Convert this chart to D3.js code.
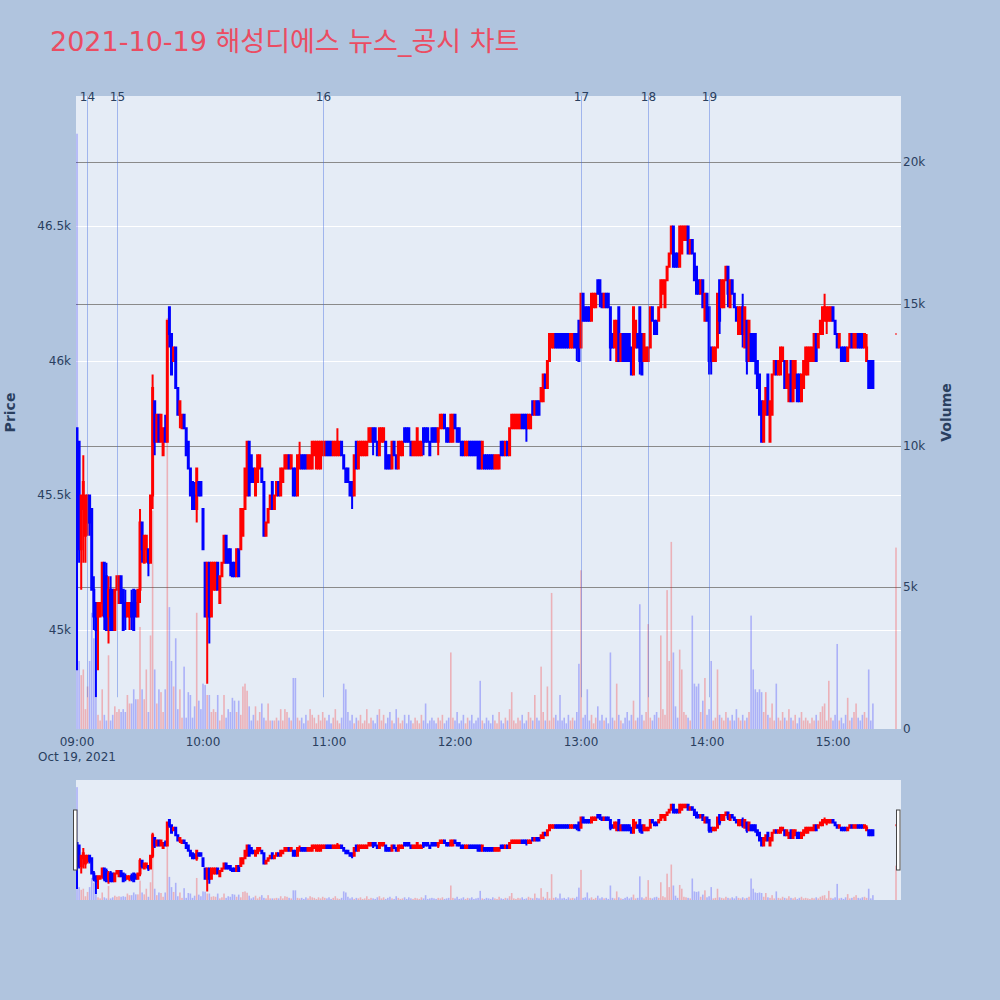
<!DOCTYPE html>
<html><head><meta charset="utf-8">
<script src="https://cdn.jsdelivr.net/npm/d3@7"></script>
<style>body{margin:0;background:#b0c4de;}svg{display:block;}</style>
</head><body>
<svg id="chart" width="1000" height="1000"></svg>
<script>
const tradeDate = "2021-10-19";
const chartTitle = "2021-10-19 해성디에스 뉴스_공시 차트";
const times = [
"09:00","09:01","09:02","09:03","09:04","09:05","09:06","09:07","09:08","09:09",
"09:10","09:11","09:12","09:13","09:14","09:15","09:16","09:17","09:18","09:19",
"09:20","09:21","09:22","09:23","09:24","09:25","09:26","09:27","09:28","09:29",
"09:30","09:31","09:32","09:33","09:34","09:35","09:36","09:37","09:38","09:39",
"09:40","09:41","09:42","09:43","09:44","09:45","09:46","09:47","09:48","09:49",
"09:50","09:51","09:52","09:53","09:54","09:55","09:56","09:57","09:58","09:59",
"10:00","10:01","10:02","10:03","10:04","10:05","10:06","10:07","10:08","10:09",
"10:10","10:11","10:12","10:13","10:14","10:15","10:16","10:17","10:18","10:19",
"10:20","10:21","10:22","10:23","10:24","10:25","10:26","10:27","10:28","10:29",
"10:30","10:31","10:32","10:33","10:34","10:35","10:36","10:37","10:38","10:39",
"10:40","10:41","10:42","10:43","10:44","10:45","10:46","10:47","10:48","10:49",
"10:50","10:51","10:52","10:53","10:54","10:55","10:56","10:57","10:58","10:59",
"11:00","11:01","11:02","11:03","11:04","11:05","11:06","11:07","11:08","11:09",
"11:10","11:11","11:12","11:13","11:14","11:15","11:16","11:17","11:18","11:19",
"11:20","11:21","11:22","11:23","11:24","11:25","11:26","11:27","11:28","11:29",
"11:30","11:31","11:32","11:33","11:34","11:35","11:36","11:37","11:38","11:39",
"11:40","11:41","11:42","11:43","11:44","11:45","11:46","11:47","11:48","11:49",
"11:50","11:51","11:52","11:53","11:54","11:55","11:56","11:57","11:58","11:59",
"12:00","12:01","12:02","12:03","12:04","12:05","12:06","12:07","12:08","12:09",
"12:10","12:11","12:12","12:13","12:14","12:15","12:16","12:17","12:18","12:19",
"12:20","12:21","12:22","12:23","12:24","12:25","12:26","12:27","12:28","12:29",
"12:30","12:31","12:32","12:33","12:34","12:35","12:36","12:37","12:38","12:39",
"12:40","12:41","12:42","12:43","12:44","12:45","12:46","12:47","12:48","12:49",
"12:50","12:51","12:52","12:53","12:54","12:55","12:56","12:57","12:58","12:59",
"13:00","13:01","13:02","13:03","13:04","13:05","13:06","13:07","13:08","13:09",
"13:10","13:11","13:12","13:13","13:14","13:15","13:16","13:17","13:18","13:19",
"13:20","13:21","13:22","13:23","13:24","13:25","13:26","13:27","13:28","13:29",
"13:30","13:31","13:32","13:33","13:34","13:35","13:36","13:37","13:38","13:39",
"13:40","13:41","13:42","13:43","13:44","13:45","13:46","13:47","13:48","13:49",
"13:50","13:51","13:52","13:53","13:54","13:55","13:56","13:57","13:58","13:59",
"14:00","14:01","14:02","14:03","14:04","14:05","14:06","14:07","14:08","14:09",
"14:10","14:11","14:12","14:13","14:14","14:15","14:16","14:17","14:18","14:19",
"14:20","14:21","14:22","14:23","14:24","14:25","14:26","14:27","14:28","14:29",
"14:30","14:31","14:32","14:33","14:34","14:35","14:36","14:37","14:38","14:39",
"14:40","14:41","14:42","14:43","14:44","14:45","14:46","14:47","14:48","14:49",
"14:50","14:51","14:52","14:53","14:54","14:55","14:56","14:57","14:58","14:59",
"15:00","15:01","15:02","15:03","15:04","15:05","15:06","15:07","15:08","15:09",
"15:10","15:11","15:12","15:13","15:14","15:15","15:16","15:17","15:18","15:19",
"15:30"];
const opens = [
45750,45700,45300,45450,45350,45400,45500,45450,45150,45100,
45050,45050,45100,45250,45200,45050,45150,45150,45000,45150,
45100,45200,45150,45100,45050,45050,45100,45150,45100,45050,
45150,45400,45250,45300,45300,45250,45500,45850,45700,45800,
45700,45650,45750,45700,46200,46100,46000,46050,45900,45800,
45750,45800,45750,45700,45600,45550,45500,45450,45550,45550,
45450,45250,45050,45250,45050,45150,45150,45250,45100,45200,
45250,45350,45300,45300,45250,45250,45200,45300,45300,45350,
45450,45500,45700,45650,45600,45500,45550,45600,45600,45550,
45350,45400,45450,45550,45450,45500,45550,45500,45550,45600,
45600,45650,45600,45600,45600,45500,45600,45650,45650,45650,
45600,45600,45600,45650,45600,45600,45600,45650,45650,45700,
45700,45700,45650,45650,45650,45650,45700,45650,45600,45600,
45550,45550,45500,45700,45600,45650,45650,45650,45650,45700,
45700,45750,45750,45700,45650,45700,45700,45700,45650,45650,
45600,45700,45650,45600,45650,45650,45750,45750,45750,45700,
45650,45650,45650,45650,45650,45750,45750,45750,45700,45750,
45750,45750,45700,45750,45750,45800,45750,45750,45700,45700,
45800,45750,45750,45700,45700,45650,45650,45700,45700,45700,
45700,45700,45700,45600,45650,45650,45650,45650,45650,45600,
45600,45600,45700,45700,45650,45700,45650,45750,45750,45750,
45750,45750,45800,45800,45800,45750,45750,45850,45800,45850,
45850,45850,45850,45950,45900,46000,46050,46050,46100,46100,
46100,46100,46100,46100,46100,46050,46050,46100,46100,46150,
46050,46250,46200,46200,46200,46150,46200,46200,46300,46300,
46250,46200,46250,46250,46200,46100,46050,46000,46200,46000,
46100,46100,46100,46100,46050,45950,46050,46100,46200,46100,
46000,46000,46000,46050,46200,46150,46150,46150,46200,46250,
46200,46300,46350,46400,46500,46400,46400,46350,46400,46450,
46450,46500,46400,46450,46400,46350,46300,46250,46300,46150,
46250,46200,46050,46000,46000,46050,46300,46200,46200,46300,
46350,46200,46300,46250,46200,46100,46100,46200,46050,46150,
46000,46100,46100,46100,46000,45950,45850,45700,45800,45950,
45700,45800,45950,46000,45950,45950,46000,46000,45900,45850,
46000,45850,45900,45950,45950,45850,45900,45950,45950,46000,
46000,46000,46100,46050,46100,46100,46150,46150,46150,46150,
46200,46150,46100,46050,46050,46050,46050,46000,46050,46100,
46050,46050,46100,46100,46100,46050,46000,46000,46000,46000,
46100];
const highs = [
45750,45700,45500,45650,45500,45500,45500,45450,45200,45100,
45100,45100,45250,45250,45250,45200,45200,45150,45150,45200,
45200,45200,45150,45150,45100,45100,45150,45150,45150,45150,
45450,45400,45350,45350,45300,45500,45950,45850,45800,45800,
45800,45750,45800,46150,46200,46100,46050,46050,45900,45850,
45800,45800,45750,45700,45600,45550,45550,45600,45550,45550,
45450,45250,45250,45250,45250,45250,45250,45250,45200,45250,
45350,45350,45300,45300,45250,45250,45300,45300,45450,45450,
45600,45700,45700,45650,45600,45600,45650,45650,45600,45550,
45400,45450,45500,45550,45500,45550,45550,45600,45600,45650,
45650,45650,45650,45600,45600,45650,45700,45650,45650,45650,
45650,45650,45700,45700,45700,45700,45700,45700,45700,45700,
45700,45700,45700,45700,45750,45700,45700,45650,45600,45600,
45550,45550,45650,45700,45700,45700,45700,45700,45700,45750,
45750,45750,45750,45700,45750,45750,45750,45700,45650,45650,
45700,45700,45650,45700,45700,45700,45750,45750,45750,45700,
45700,45700,45750,45700,45700,45750,45750,45750,45700,45750,
45750,45750,45750,45800,45800,45800,45750,45750,45800,45800,
45800,45750,45750,45700,45700,45700,45700,45700,45700,45700,
45700,45700,45700,45700,45650,45650,45650,45650,45650,45650,
45650,45650,45700,45700,45700,45700,45750,45800,45800,45800,
45800,45800,45800,45800,45800,45800,45800,45850,45850,45850,
45850,45900,45950,45950,46000,46100,46100,46100,46100,46100,
46100,46100,46100,46100,46100,46100,46100,46100,46100,46150,
46250,46250,46200,46200,46200,46250,46250,46250,46300,46300,
46250,46250,46250,46250,46200,46100,46150,46150,46200,46100,
46100,46100,46100,46100,46050,46200,46150,46100,46200,46100,
46100,46050,46050,46200,46200,46150,46150,46200,46300,46300,
46300,46350,46400,46500,46500,46400,46400,46500,46500,46500,
46500,46500,46450,46450,46400,46350,46300,46300,46300,46250,
46250,46200,46050,46050,46050,46250,46300,46300,46300,46350,
46350,46300,46300,46250,46200,46200,46200,46250,46200,46150,
46150,46100,46100,46100,46000,45950,45850,45850,45900,45950,
45850,45950,46000,46000,46000,46050,46050,46000,46000,45950,
46000,46000,46000,45950,45950,45950,46000,46050,46050,46050,
46050,46100,46100,46100,46150,46200,46250,46200,46200,46200,
46200,46150,46100,46100,46050,46050,46050,46050,46100,46100,
46100,46100,46100,46100,46100,46100,46100,46000,46000,46000,
46100];
const lows = [
44850,45250,45150,45250,45250,45350,45350,45150,45000,44750,
44850,45050,45050,45000,45000,44950,45000,45000,45000,45150,
45100,45100,45000,45000,45050,45000,45000,45000,45050,45050,
45100,45250,45250,45250,45200,45250,45450,45650,45700,45700,
45700,45650,45700,45700,46050,45950,46000,45900,45800,45750,
45750,45750,45650,45600,45500,45450,45450,45400,45500,45500,
45300,45050,44800,44950,45050,45150,45150,45150,45100,45200,
45250,45250,45250,45200,45200,45200,45200,45200,45300,45350,
45450,45500,45500,45550,45550,45500,45550,45600,45550,45350,
45350,45400,45450,45450,45450,45500,45500,45500,45550,45600,
45600,45600,45600,45500,45500,45500,45600,45600,45600,45600,
45600,45600,45600,45650,45600,45600,45600,45650,45650,45650,
45650,45650,45650,45650,45650,45650,45650,45600,45550,45550,
45500,45450,45500,45600,45600,45650,45650,45650,45650,45700,
45700,45650,45700,45650,45650,45700,45700,45600,45600,45600,
45600,45650,45600,45600,45650,45650,45700,45700,45700,45650,
45650,45650,45650,45650,45650,45650,45700,45700,45650,45700,
45700,45700,45650,45750,45750,45750,45700,45700,45700,45700,
45750,45700,45700,45650,45650,45650,45650,45650,45650,45650,
45650,45600,45600,45600,45600,45600,45600,45600,45600,45600,
45600,45600,45650,45650,45650,45650,45650,45750,45750,45750,
45750,45750,45750,45750,45700,45750,45750,45800,45800,45800,
45800,45850,45850,45900,45900,46000,46050,46050,46050,46050,
46050,46050,46050,46050,46050,46050,46050,46050,46000,46000,
46050,46150,46150,46150,46150,46150,46200,46200,46250,46200,
46200,46200,46200,46200,46000,46050,46050,46000,46000,46000,
46000,46000,46000,46000,45950,45950,46050,46050,45950,45950,
46000,46000,46000,46050,46150,46100,46100,46150,46200,46250,
46200,46300,46350,46400,46350,46350,46350,46350,46400,46450,
46450,46400,46400,46400,46300,46250,46250,46250,46200,46150,
46150,45950,45950,46000,46000,46050,46100,46200,46200,46300,
46200,46200,46250,46200,46150,46100,46100,46050,46050,45950,
46000,46000,46000,45950,45900,45800,45700,45700,45800,45800,
45700,45800,45950,45950,45950,45950,46000,45900,45900,45850,
45850,45850,45900,45850,45850,45850,45900,45950,45950,46000,
46000,46000,46000,46050,46100,46100,46150,46100,46150,46150,
46150,46100,46050,46050,46000,46000,46000,46000,46050,46050,
46050,46050,46050,46050,46050,46050,46000,45900,45900,45900,
46100];
const closes = [
45500,45300,45500,45550,45500,45500,45400,45150,45050,45000,
45100,45100,45250,45050,45000,45150,45000,45000,45150,45200,
45200,45100,45000,45050,45100,45100,45050,45000,45050,45150,
45400,45300,45350,45350,45250,45500,45900,45700,45800,45700,
45800,45750,45700,46150,46100,45950,46050,45900,45800,45850,
45800,45750,45650,45600,45500,45450,45450,45600,45500,45500,
45300,45050,45250,45050,45250,45250,45250,45150,45200,45250,
45350,45250,45250,45250,45200,45200,45300,45200,45450,45450,
45600,45700,45500,45550,45550,45600,45650,45650,45550,45350,
45400,45450,45500,45450,45500,45550,45500,45600,45600,45650,
45650,45600,45650,45500,45500,45650,45650,45600,45600,45600,
45650,45650,45700,45700,45700,45700,45700,45700,45700,45650,
45650,45650,45700,45700,45700,45700,45650,45600,45550,45550,
45500,45500,45650,45600,45700,45700,45700,45700,45700,45750,
45750,45700,45700,45650,45750,45750,45750,45600,45600,45600,
45700,45650,45600,45700,45700,45700,45700,45700,45700,45650,
45700,45700,45750,45700,45700,45700,45700,45700,45650,45700,
45700,45700,45750,45800,45800,45750,45700,45700,45800,45800,
45750,45700,45700,45650,45650,45700,45700,45650,45650,45650,
45650,45600,45600,45700,45600,45600,45600,45600,45600,45650,
45650,45650,45650,45650,45700,45650,45750,45800,45800,45800,
45800,45800,45750,45750,45750,45800,45800,45800,45850,45800,
45800,45900,45950,45900,46000,46100,46100,46100,46050,46050,
46050,46050,46050,46050,46050,46100,46100,46050,46050,46000,
46250,46150,46150,46150,46150,46250,46250,46250,46250,46250,
46200,46250,46200,46200,46050,46050,46150,46150,46000,46100,
46000,46000,46000,46000,45950,46200,46150,46050,46000,45950,
46100,46050,46050,46200,46150,46100,46100,46200,46300,46300,
46300,46350,46400,46500,46350,46350,46350,46500,46500,46500,
46500,46400,46450,46400,46300,46250,46250,46300,46200,46250,
46150,46000,46000,46050,46050,46250,46150,46300,46300,46350,
46250,46300,46250,46200,46150,46200,46200,46100,46200,46000,
46150,46000,46000,46000,45900,45800,45700,45850,45900,45800,
45850,45950,46000,45950,46000,46050,46050,45900,46000,45950,
45850,46000,46000,45850,45850,45950,46000,46050,46050,46050,
46050,46100,46000,46100,46150,46200,46200,46200,46200,46200,
46150,46100,46050,46100,46000,46000,46000,46050,46100,46050,
46100,46100,46050,46050,46050,46100,46050,45900,45900,45900,
46100];
const volumes = [
21000,2400,1900,2100,700,1500,2400,4100,3200,1100,
500,300,1400,500,300,2600,300,500,800,600,
700,600,700,600,1200,900,900,1400,1050,1050,
3600,1400,1050,2100,600,3300,7700,2100,900,1400,
1300,600,1400,14500,4300,2400,1500,3200,700,1400,
400,2200,400,1300,1200,400,800,4100,1000,700,
1600,1550,1200,1200,600,700,600,1200,300,500,
1200,400,700,600,1100,1000,600,1000,500,1500,
1600,1350,800,300,500,800,300,600,900,400,
300,900,300,300,300,400,300,700,300,700,
600,400,300,1800,1800,400,300,400,200,500,
300,700,500,400,200,500,300,600,400,300,
500,200,400,700,300,200,400,1600,1400,600,
300,500,200,400,300,500,200,300,700,200,
400,300,200,500,700,300,500,200,400,600,
300,200,700,400,200,300,500,200,500,300,
200,400,300,200,500,300,900,200,300,400,
300,200,400,300,500,200,300,400,2700,400,
300,600,200,300,500,200,400,300,500,200,
300,400,1700,300,200,400,300,200,500,300,
200,600,300,200,400,300,700,1300,300,200,
400,300,500,200,300,600,400,300,1200,400,
300,2200,600,300,1500,300,4800,400,500,300,
1200,300,400,200,500,300,400,300,600,2300,
5600,400,500,1400,300,500,200,400,800,300,
500,300,400,200,2700,400,300,1600,500,300,
200,400,600,300,500,1000,300,400,4400,500,
300,600,3700,400,300,500,600,400,3300,700,
500,4900,2400,6600,2700,800,400,2800,2100,600,
500,400,300,4000,1600,1500,1600,600,1000,1800,
500,700,2400,300,400,2100,500,400,300,600,
400,300,500,300,700,400,300,500,300,400,
600,4000,2100,1400,1300,1400,1300,600,1300,500,
400,900,300,1600,400,300,600,400,300,700,
400,300,500,200,400,600,300,400,300,200,
400,300,500,300,600,800,900,300,1700,400,
300,500,3000,300,400,200,500,1100,300,400,
600,900,400,300,500,600,400,2100,300,900,
6400];
const priceTicks = [45000, 45500, 46000, 46500];
const priceTickLabels = ["45k", "45.5k", "46k", "46.5k"];
const volumeTicks = [0, 5000, 10000, 15000, 20000];
const volumeTickLabels = ["0", "5k", "10k", "15k", "20k"];
const timeTicks = ["09:00", "10:00", "11:00", "12:00", "13:00", "14:00", "15:00"];
const newsTimes = ["09:04:40", "09:19:00", "10:57:20", "13:00:00", "13:31:40", "14:01:00"];
const newsLabels = ["14", "15", "16", "17", "18", "19"];
const newsLineFloor = 44750;

const parseT = d3.timeParse("%Y-%m-%d %H:%M:%S");
const toDate = s => parseT(`${tradeDate} ${s.length === 5 ? s + ":00" : s}`);
const data = times.map((t, i) => ({t: toDate(t), o: opens[i], h: highs[i], l: lows[i], c: closes[i], v: volumes[i]}));
const UP = "#ff0000", DOWN = "#0000ff";
const col = d => d.c >= d.o ? UP : DOWN;

const P = {left: 76, right: 901, top: 96, bottom: 729};
const S = {top: 780, bottom: 900};
const FONT = "'DejaVu Sans', Verdana, sans-serif";
const TXT = "#2a3f5f";

const x = d3.scaleTime().domain([toDate("08:59:31"), toDate("15:32:23")]).range([P.left, P.right]);
const yP = d3.scaleLinear().domain([44632, 46985]).range([P.bottom, P.top]);
const yV = d3.scaleLinear().domain([0, 22330]).range([P.bottom, P.top]);
const yPS = d3.scaleLinear().domain([44632, 46985]).range([S.bottom, S.top]);
const yVS = d3.scaleLinear().domain([0, 22330]).range([S.bottom, S.top]);

const svg = d3.select("#chart");
svg.append("rect").attr("width", 1000).attr("height", 1000).attr("fill", "#b0c4de");

svg.append("text").attr("x", 50).attr("y", 51)
  .attr("font-family", "'DejaVu Sans', 'Noto Sans CJK KR', sans-serif")
  .attr("font-size", 27).attr("fill", "#eb4c62").text(chartTitle);

const defs = svg.append("defs");
defs.append("clipPath").attr("id", "clipMain").append("rect")
  .attr("x", P.left).attr("y", P.top).attr("width", P.right - P.left).attr("height", P.bottom - P.top);
defs.append("clipPath").attr("id", "clipSlider").append("rect")
  .attr("x", P.left).attr("y", S.top).attr("width", P.right - P.left).attr("height", S.bottom - S.top);

svg.append("rect").attr("x", P.left).attr("y", P.top).attr("width", P.right - P.left)
  .attr("height", P.bottom - P.top).attr("fill", "#e5ecf6");

// price gridlines (white)
svg.append("g").selectAll("line").data(priceTicks).join("line")
  .attr("x1", P.left).attr("x2", P.right)
  .attr("y1", d => Math.round(yP(d)) + 0.5).attr("y2", d => Math.round(yP(d)) + 0.5)
  .attr("stroke", "#ffffff").attr("stroke-width", 1);
// volume gridlines (gray)
svg.append("g").selectAll("line").data(volumeTicks.filter(v => v > 0)).join("line")
  .attr("x1", P.left).attr("x2", P.right)
  .attr("y1", d => Math.round(yV(d)) + 0.5).attr("y2", d => Math.round(yV(d)) + 0.5)
  .attr("stroke", "#8a8a8a").attr("stroke-width", 1);

function candlePath(d, ys) {
  const cx = x(d.t);
  const top = ys(Math.max(d.o, d.c)), bot = ys(Math.min(d.o, d.c));
  return `M${cx},${ys(d.h)}V${top}M${cx - 0.5},${top}H${cx + 0.5}V${bot}H${cx - 0.5}ZM${cx},${bot}V${ys(d.l)}`;
}
function drawSeries(g, ys, yv) {
  g.append("g").selectAll("path").data(data).join("path")
    .attr("d", d => candlePath(d, ys))
    .attr("stroke", col).attr("fill", col).attr("stroke-width", 2);
  g.append("g").selectAll("rect").data(data).join("rect")
    .attr("x", d => x(d.t) - 0.8).attr("width", 1.6)
    .attr("y", d => yv(d.v)).attr("height", d => yv(0) - yv(d.v))
    .attr("fill", col).attr("fill-opacity", 0.25);
}
const main = svg.append("g").attr("clip-path", "url(#clipMain)");
drawSeries(main, yP, yV);

// news lines
const news = svg.append("g");
newsTimes.forEach((t, i) => {
  const nx = Math.round(x(toDate(t))) + 0.5;
  news.append("line").attr("x1", nx).attr("x2", nx).attr("y1", yP(newsLineFloor)).attr("y2", P.top)
    .attr("stroke", "rgba(65,105,225,0.42)").attr("stroke-width", 1);
  news.append("text").attr("x", nx).attr("y", 101).attr("text-anchor", "middle")
    .attr("font-family", FONT).attr("font-size", 12).attr("fill", TXT).text(newsLabels[i]);
});

// axes labels
const ax = svg.append("g").attr("font-family", FONT).attr("font-size", 12).attr("fill", TXT);
priceTicks.forEach((p, i) => ax.append("text").attr("x", 71).attr("y", yP(p) + 4)
  .attr("text-anchor", "end").text(priceTickLabels[i]));
volumeTicks.forEach((v, i) => ax.append("text").attr("x", 903).attr("y", yV(v) + 4)
  .attr("text-anchor", "start").text(volumeTickLabels[i]));
timeTicks.forEach(t => ax.append("text").attr("x", x(toDate(t))).attr("y", 746)
  .attr("text-anchor", "middle").text(t));
ax.append("text").attr("x", x(toDate(timeTicks[0]))).attr("y", 761).attr("text-anchor", "middle").text("Oct 19, 2021");

svg.append("text").attr("transform", `translate(15,${(P.top + P.bottom) / 2}) rotate(-90)`)
  .attr("text-anchor", "middle").attr("font-family", FONT).attr("font-size", 14)
  .attr("font-weight", "bold").attr("fill", TXT).text("Price");
svg.append("text").attr("transform", `translate(951,${(P.top + P.bottom) / 2}) rotate(-90)`)
  .attr("text-anchor", "middle").attr("font-family", FONT).attr("font-size", 14)
  .attr("font-weight", "bold").attr("fill", TXT).text("Volume");

// range slider
svg.append("rect").attr("x", P.left).attr("y", S.top).attr("width", P.right - P.left)
  .attr("height", S.bottom - S.top).attr("fill", "#e5ecf6");
const sl = svg.append("g").attr("clip-path", "url(#clipSlider)");
drawSeries(sl, yPS, yVS);
const sMid = (S.top + S.bottom) / 2;
[P.left - 1, P.right - 3].forEach(hx => {
  svg.append("rect").attr("x", hx - 1.5).attr("y", sMid - 30).attr("width", 3.5).attr("height", 60)
    .attr("fill", "#ffffff").attr("stroke", "#444").attr("stroke-width", 1);
});
</script>
</body></html>
